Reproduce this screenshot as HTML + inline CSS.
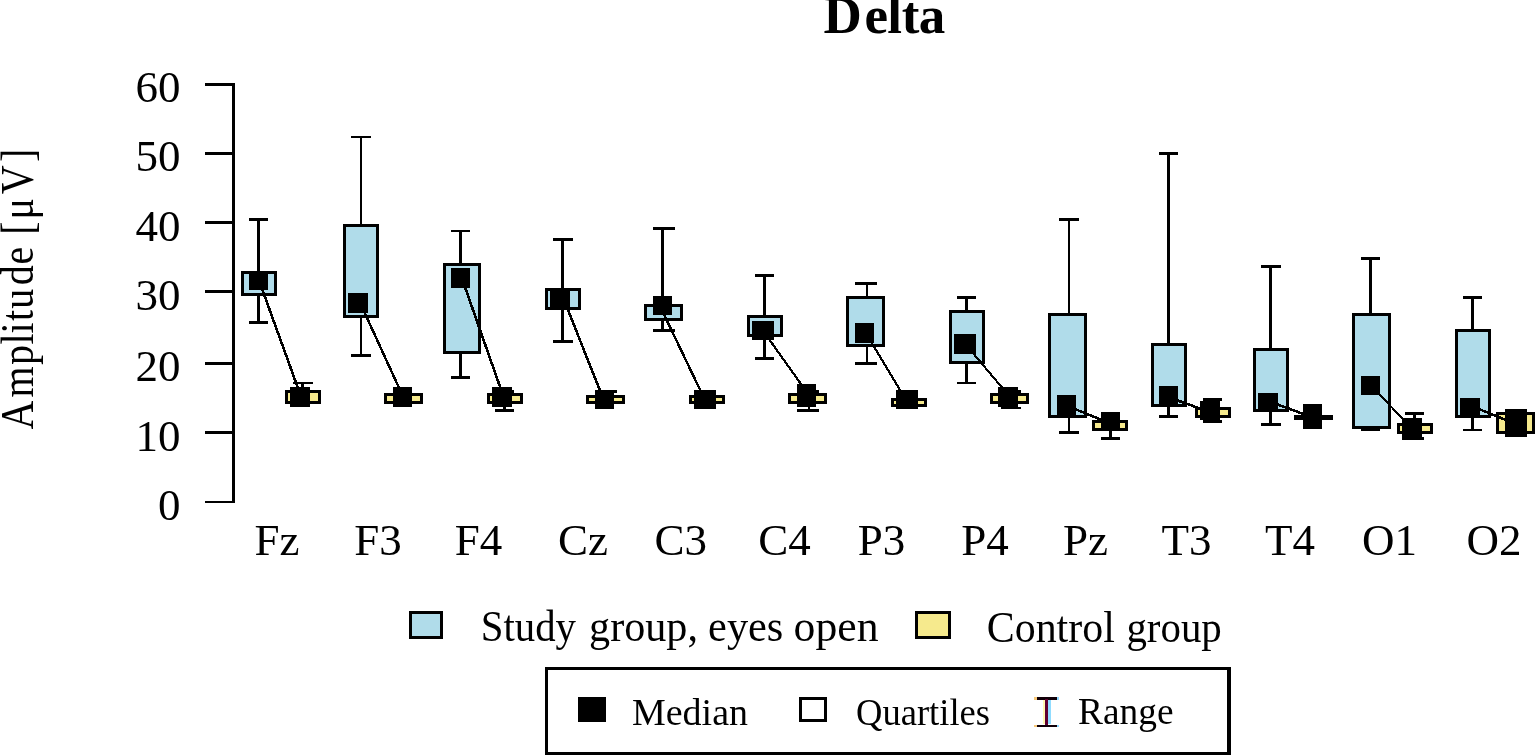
<!DOCTYPE html>
<html><head><meta charset="utf-8"><title>Delta</title>
<style>
html,body{margin:0;padding:0;background:#fff;overflow:hidden;}
svg{display:block;}
text{font-family:"Liberation Serif","Times New Roman",serif;fill:#000;}
.t44{font-size:44px;}
.t45{font-size:45px;}
.t46{font-size:46px;}
.t37{font-size:37px;}
.title{font-size:53px;font-weight:bold;}
</style></head><body>
<svg width="1535" height="755" viewBox="0 0 1535 755">
<rect width="1535" height="755" fill="#fff"/>
<text x="823.6 864.6 887.3 901.7 918.8" y="32.7" class="title">Delta</text>
<text transform="translate(33,430) rotate(-90) scale(0.85,1)" x="0.6 38.3 76.6 100.6 113.4 128.1 142.6 170.3 194.7 212.2 229.7 247.7 277.5 315.4" y="0" style="font-size:47px">Amplitude [&#956;V]</text>
<text x="180.5" y="520" text-anchor="end" class="t45">0</text>
<text x="180.5" y="450.5" text-anchor="end" class="t45">10</text>
<text x="180.5" y="380.7" text-anchor="end" class="t45">20</text>
<text x="180.5" y="310" text-anchor="end" class="t45">30</text>
<text x="180.5" y="241" text-anchor="end" class="t45">40</text>
<text x="180.5" y="170.7" text-anchor="end" class="t45">50</text>
<text x="180.5" y="102" text-anchor="end" class="t45">60</text>
<g shape-rendering="crispEdges">
<rect x="232" y="83" width="3" height="420" fill="#000"/>
<rect x="205" y="501" width="30" height="2" fill="#000"/>
<rect x="205" y="431" width="30" height="3" fill="#000"/>
<rect x="205" y="362" width="30" height="3" fill="#000"/>
<rect x="205" y="290" width="30" height="3" fill="#000"/>
<rect x="205" y="221" width="30" height="3" fill="#000"/>
<rect x="205" y="152" width="30" height="3" fill="#000"/>
<rect x="205" y="83" width="30" height="3" fill="#000"/>
<rect x="257" y="221" width="3" height="50" fill="#000"/>
<rect x="257" y="296" width="3" height="25" fill="#000"/>
<rect x="249" y="218" width="19" height="3" fill="#000"/>
<rect x="249" y="321" width="19" height="3" fill="#000"/>
<rect x="241" y="271" width="36" height="25" fill="#000"/>
<rect x="244" y="274" width="30" height="19" fill="#B0DCEA"/>
<rect x="301" y="384" width="3" height="6" fill="#000"/>
<rect x="293" y="382" width="20" height="2" fill="#000"/>
<rect x="285" y="390" width="36" height="14" fill="#000"/>
<rect x="288" y="393" width="30" height="8" fill="#F6EA8D"/>
<rect x="360" y="138" width="2" height="86" fill="#000"/>
<rect x="360" y="318" width="2" height="36" fill="#000"/>
<rect x="351" y="136" width="20" height="2" fill="#000"/>
<rect x="351" y="354" width="20" height="3" fill="#000"/>
<rect x="343" y="224" width="36" height="94" fill="#000"/>
<rect x="346" y="227" width="30" height="88" fill="#B0DCEA"/>
<rect x="384" y="393" width="39" height="11" fill="#000"/>
<rect x="387" y="396" width="33" height="5" fill="#F6EA8D"/>
<rect x="459" y="232" width="3" height="31" fill="#000"/>
<rect x="459" y="354" width="3" height="22" fill="#000"/>
<rect x="451" y="230" width="19" height="2" fill="#000"/>
<rect x="451" y="376" width="19" height="3" fill="#000"/>
<rect x="443" y="263" width="38" height="91" fill="#000"/>
<rect x="446" y="266" width="32" height="85" fill="#B0DCEA"/>
<rect x="503" y="393" width="3" height="0" fill="#000"/>
<rect x="503" y="404" width="3" height="5" fill="#000"/>
<rect x="495" y="390" width="19" height="3" fill="#000"/>
<rect x="495" y="409" width="19" height="3" fill="#000"/>
<rect x="487" y="393" width="36" height="11" fill="#000"/>
<rect x="490" y="396" width="30" height="5" fill="#F6EA8D"/>
<rect x="561" y="241" width="3" height="47" fill="#000"/>
<rect x="561" y="310" width="3" height="30" fill="#000"/>
<rect x="553" y="238" width="20" height="3" fill="#000"/>
<rect x="553" y="340" width="20" height="3" fill="#000"/>
<rect x="545" y="288" width="36" height="22" fill="#000"/>
<rect x="548" y="291" width="30" height="16" fill="#B0DCEA"/>
<rect x="597" y="390" width="20" height="3" fill="#000"/>
<rect x="586" y="395" width="39" height="9" fill="#000"/>
<rect x="589" y="398" width="33" height="3" fill="#F6EA8D"/>
<rect x="661" y="230" width="3" height="74" fill="#000"/>
<rect x="661" y="321" width="3" height="8" fill="#000"/>
<rect x="653" y="227" width="22" height="3" fill="#000"/>
<rect x="653" y="329" width="22" height="3" fill="#000"/>
<rect x="644" y="304" width="39" height="17" fill="#000"/>
<rect x="647" y="307" width="33" height="11" fill="#B0DCEA"/>
<rect x="689" y="395" width="36" height="9" fill="#000"/>
<rect x="692" y="398" width="30" height="3" fill="#F6EA8D"/>
<rect x="763" y="277" width="3" height="38" fill="#000"/>
<rect x="763" y="337" width="3" height="20" fill="#000"/>
<rect x="755" y="274" width="19" height="3" fill="#000"/>
<rect x="755" y="357" width="19" height="3" fill="#000"/>
<rect x="747" y="315" width="36" height="22" fill="#000"/>
<rect x="750" y="318" width="30" height="16" fill="#B0DCEA"/>
<rect x="808" y="393" width="2" height="0" fill="#000"/>
<rect x="808" y="404" width="2" height="5" fill="#000"/>
<rect x="799" y="390" width="20" height="3" fill="#000"/>
<rect x="797" y="409" width="22" height="3" fill="#000"/>
<rect x="788" y="393" width="39" height="11" fill="#000"/>
<rect x="791" y="396" width="33" height="5" fill="#F6EA8D"/>
<rect x="866" y="285" width="2" height="11" fill="#000"/>
<rect x="866" y="347" width="2" height="15" fill="#000"/>
<rect x="855" y="282" width="22" height="3" fill="#000"/>
<rect x="855" y="362" width="22" height="3" fill="#000"/>
<rect x="846" y="296" width="39" height="51" fill="#000"/>
<rect x="849" y="299" width="33" height="45" fill="#B0DCEA"/>
<rect x="891" y="398" width="36" height="9" fill="#000"/>
<rect x="894" y="401" width="30" height="3" fill="#F6EA8D"/>
<rect x="965" y="299" width="3" height="11" fill="#000"/>
<rect x="965" y="364" width="3" height="18" fill="#000"/>
<rect x="957" y="296" width="19" height="3" fill="#000"/>
<rect x="957" y="382" width="19" height="2" fill="#000"/>
<rect x="949" y="310" width="36" height="54" fill="#000"/>
<rect x="952" y="313" width="30" height="48" fill="#B0DCEA"/>
<rect x="1001" y="390" width="20" height="3" fill="#000"/>
<rect x="1001" y="407" width="20" height="2" fill="#000"/>
<rect x="990" y="393" width="39" height="11" fill="#000"/>
<rect x="993" y="396" width="33" height="5" fill="#F6EA8D"/>
<rect x="1068" y="221" width="2" height="92" fill="#000"/>
<rect x="1068" y="418" width="2" height="13" fill="#000"/>
<rect x="1059" y="218" width="20" height="3" fill="#000"/>
<rect x="1059" y="431" width="20" height="3" fill="#000"/>
<rect x="1048" y="313" width="39" height="105" fill="#000"/>
<rect x="1051" y="316" width="33" height="99" fill="#B0DCEA"/>
<rect x="1109" y="431" width="3" height="6" fill="#000"/>
<rect x="1101" y="437" width="19" height="3" fill="#000"/>
<rect x="1092" y="420" width="36" height="11" fill="#000"/>
<rect x="1095" y="423" width="30" height="5" fill="#F6EA8D"/>
<rect x="1167" y="155" width="3" height="188" fill="#000"/>
<rect x="1167" y="407" width="3" height="8" fill="#000"/>
<rect x="1159" y="152" width="19" height="3" fill="#000"/>
<rect x="1159" y="415" width="19" height="3" fill="#000"/>
<rect x="1151" y="343" width="36" height="64" fill="#000"/>
<rect x="1154" y="346" width="30" height="58" fill="#B0DCEA"/>
<rect x="1203" y="398" width="19" height="3" fill="#000"/>
<rect x="1203" y="420" width="19" height="3" fill="#000"/>
<rect x="1195" y="407" width="36" height="11" fill="#000"/>
<rect x="1198" y="410" width="30" height="5" fill="#F6EA8D"/>
<rect x="1269" y="268" width="3" height="80" fill="#000"/>
<rect x="1269" y="412" width="3" height="11" fill="#000"/>
<rect x="1261" y="265" width="20" height="3" fill="#000"/>
<rect x="1261" y="423" width="20" height="3" fill="#000"/>
<rect x="1253" y="348" width="36" height="64" fill="#000"/>
<rect x="1256" y="351" width="30" height="58" fill="#B0DCEA"/>
<rect x="1294" y="415" width="39" height="5" fill="#000"/>
<rect x="1369" y="260" width="3" height="53" fill="#000"/>
<rect x="1369" y="429" width="3" height="0" fill="#000"/>
<rect x="1361" y="257" width="19" height="3" fill="#000"/>
<rect x="1361" y="429" width="19" height="2" fill="#000"/>
<rect x="1352" y="313" width="39" height="116" fill="#000"/>
<rect x="1355" y="316" width="33" height="110" fill="#B0DCEA"/>
<rect x="1413" y="415" width="3" height="8" fill="#000"/>
<rect x="1413" y="434" width="3" height="3" fill="#000"/>
<rect x="1405" y="412" width="19" height="3" fill="#000"/>
<rect x="1402" y="437" width="22" height="3" fill="#000"/>
<rect x="1397" y="423" width="36" height="11" fill="#000"/>
<rect x="1400" y="426" width="30" height="5" fill="#F6EA8D"/>
<rect x="1471" y="299" width="3" height="30" fill="#000"/>
<rect x="1471" y="418" width="3" height="11" fill="#000"/>
<rect x="1463" y="296" width="19" height="3" fill="#000"/>
<rect x="1463" y="429" width="19" height="2" fill="#000"/>
<rect x="1455" y="329" width="36" height="89" fill="#000"/>
<rect x="1458" y="332" width="30" height="83" fill="#B0DCEA"/>
<rect x="1496" y="412" width="39" height="22" fill="#000"/>
<rect x="1499" y="415" width="33" height="16" fill="#F6EA8D"/>
<line x1="259.0" y1="280.5" x2="301.2" y2="397.0" stroke="#000" stroke-width="2.59" shape-rendering="crispEdges"/>
<line x1="360.2" y1="303.0" x2="403.2" y2="397.0" stroke="#000" stroke-width="2.50" shape-rendering="crispEdges"/>
<line x1="461.8" y1="278.0" x2="503.6" y2="397.0" stroke="#000" stroke-width="2.59" shape-rendering="crispEdges"/>
<line x1="563.6" y1="299.0" x2="603.6" y2="399.5" stroke="#000" stroke-width="2.56" shape-rendering="crispEdges"/>
<line x1="659.7" y1="305.5" x2="704.7" y2="399.5" stroke="#000" stroke-width="2.48" shape-rendering="crispEdges"/>
<line x1="762.9" y1="330.5" x2="809.1" y2="395.5" stroke="#000" stroke-width="2.24" shape-rendering="crispEdges"/>
<line x1="865.8" y1="333.0" x2="905.7" y2="399.5" stroke="#000" stroke-width="2.36" shape-rendering="crispEdges"/>
<line x1="965.3" y1="344.0" x2="1010.0" y2="397.0" stroke="#000" stroke-width="2.10" shape-rendering="crispEdges"/>
<line x1="1066.5" y1="405.6" x2="1110.5" y2="423.5" stroke="#000" stroke-width="2.55" shape-rendering="crispEdges"/>
<line x1="1168.5" y1="397.2" x2="1210.0" y2="412.1" stroke="#000" stroke-width="2.59" shape-rendering="crispEdges"/>
<line x1="1268.0" y1="400.9" x2="1312.5" y2="417.4" stroke="#000" stroke-width="2.58" shape-rendering="crispEdges"/>
<line x1="1371.0" y1="385.5" x2="1411.0" y2="427.5" stroke="#000" stroke-width="1.99" shape-rendering="crispEdges"/>
<line x1="1470.0" y1="405.4" x2="1516.0" y2="424.1" stroke="#000" stroke-width="2.55" shape-rendering="crispEdges"/>
<rect x="249" y="271" width="19" height="19" fill="#000"/>
<rect x="290" y="387" width="20" height="20" fill="#000"/>
<rect x="348" y="293" width="20" height="20" fill="#000"/>
<rect x="393" y="387" width="19" height="20" fill="#000"/>
<rect x="451" y="268" width="19" height="20" fill="#000"/>
<rect x="492" y="387" width="20" height="20" fill="#000"/>
<rect x="550" y="289" width="20" height="20" fill="#000"/>
<rect x="595" y="390" width="19" height="19" fill="#000"/>
<rect x="653" y="296" width="19" height="19" fill="#000"/>
<rect x="694" y="390" width="22" height="19" fill="#000"/>
<rect x="752" y="321" width="22" height="19" fill="#000"/>
<rect x="797" y="384" width="19" height="23" fill="#000"/>
<rect x="855" y="323" width="19" height="20" fill="#000"/>
<rect x="896" y="390" width="22" height="19" fill="#000"/>
<rect x="954" y="334" width="22" height="20" fill="#000"/>
<rect x="998" y="387" width="20" height="20" fill="#000"/>
<rect x="1057" y="395" width="19" height="20" fill="#000"/>
<rect x="1101" y="412" width="19" height="19" fill="#000"/>
<rect x="1159" y="386" width="19" height="19" fill="#000"/>
<rect x="1200" y="401" width="20" height="19" fill="#000"/>
<rect x="1258" y="393" width="20" height="19" fill="#000"/>
<rect x="1303" y="404" width="19" height="25" fill="#000"/>
<rect x="1361" y="376" width="19" height="19" fill="#000"/>
<rect x="1402" y="418" width="20" height="19" fill="#000"/>
<rect x="1460" y="398" width="20" height="20" fill="#000"/>
<rect x="1505" y="409" width="22" height="28" fill="#000"/>
</g>
<text x="277" y="555.4" text-anchor="middle" class="t45">Fz</text>
<text x="378" y="555.4" text-anchor="middle" class="t45">F3</text>
<text x="478.5" y="555.4" text-anchor="middle" class="t45">F4</text>
<text x="583" y="555.4" text-anchor="middle" class="t45">Cz</text>
<text x="680.7" y="555.4" text-anchor="middle" class="t45">C3</text>
<text x="784.5" y="555.4" text-anchor="middle" class="t45">C4</text>
<text x="881.5" y="555.4" text-anchor="middle" class="t45">P3</text>
<text x="985" y="555.4" text-anchor="middle" class="t45">P4</text>
<text x="1085.4" y="555.4" text-anchor="middle" class="t45">Pz</text>
<text x="1186.5" y="555.4" text-anchor="middle" class="t45">T3</text>
<text x="1290" y="555.4" text-anchor="middle" class="t45">T4</text>
<text x="1389.5" y="555.4" text-anchor="middle" class="t45">O1</text>
<text x="1494" y="555.4" text-anchor="middle" class="t45">O2</text>
<g shape-rendering="crispEdges">
<rect x="409" y="611" width="34" height="28" fill="#000"/><rect x="412" y="614" width="28" height="22" fill="#B0DCEA"/>
<rect x="915" y="611" width="36" height="28" fill="#000"/><rect x="918" y="614" width="30" height="22" fill="#F6EA8D"/>
</g>
<text y="641.4" class="t45"><tspan x="480.8" textLength="95.2" lengthAdjust="spacingAndGlyphs">Study</tspan> <tspan x="589.1" textLength="108.9" lengthAdjust="spacingAndGlyphs">group,</tspan> <tspan x="708.1" textLength="75.2" lengthAdjust="spacingAndGlyphs">eyes</tspan> <tspan x="793.6" textLength="84.9" lengthAdjust="spacingAndGlyphs">open</tspan></text>
<text y="641.5" class="t45"><tspan x="986.8" textLength="128" lengthAdjust="spacingAndGlyphs">Control</tspan> <tspan x="1126.4" textLength="95.4" lengthAdjust="spacingAndGlyphs">group</tspan></text>
<g shape-rendering="crispEdges">
<rect x="545" y="667" width="686" height="88" fill="#000"/>
<rect x="548" y="670" width="679" height="82" fill="#fff"/>
<rect x="578" y="697" width="28" height="25" fill="#000"/>
<rect x="799" y="697" width="28" height="25" fill="#000"/><rect x="802" y="700" width="22" height="19" fill="#fff"/>
<rect x="1034" y="697" width="3" height="3" fill="#f8c878"/>
<rect x="1057" y="697" width="2" height="3" fill="#90d8ff"/>
<rect x="1034" y="725" width="3" height="2" fill="#f8c878"/>
<rect x="1057" y="725" width="2" height="2" fill="#90d8ff"/>
<rect x="1037" y="697" width="20" height="3" fill="#100008"/>
<rect x="1037" y="725" width="20" height="2" fill="#100008"/>
<rect x="1043" y="700" width="2" height="24" fill="#fff8b0"/>
<rect x="1048" y="700" width="3" height="24" fill="#90dcff"/>
<rect x="1045" y="699" width="3" height="26" fill="#600030"/>
</g>
<text x="632" y="724.7" class="t37" textLength="116" lengthAdjust="spacingAndGlyphs">Median</text>
<text x="856" y="724.7" class="t37" textLength="134" lengthAdjust="spacingAndGlyphs">Quartiles</text>
<text x="1078" y="724.4" class="t37" textLength="95.5" lengthAdjust="spacingAndGlyphs">Range</text>
</svg>
</body></html>
